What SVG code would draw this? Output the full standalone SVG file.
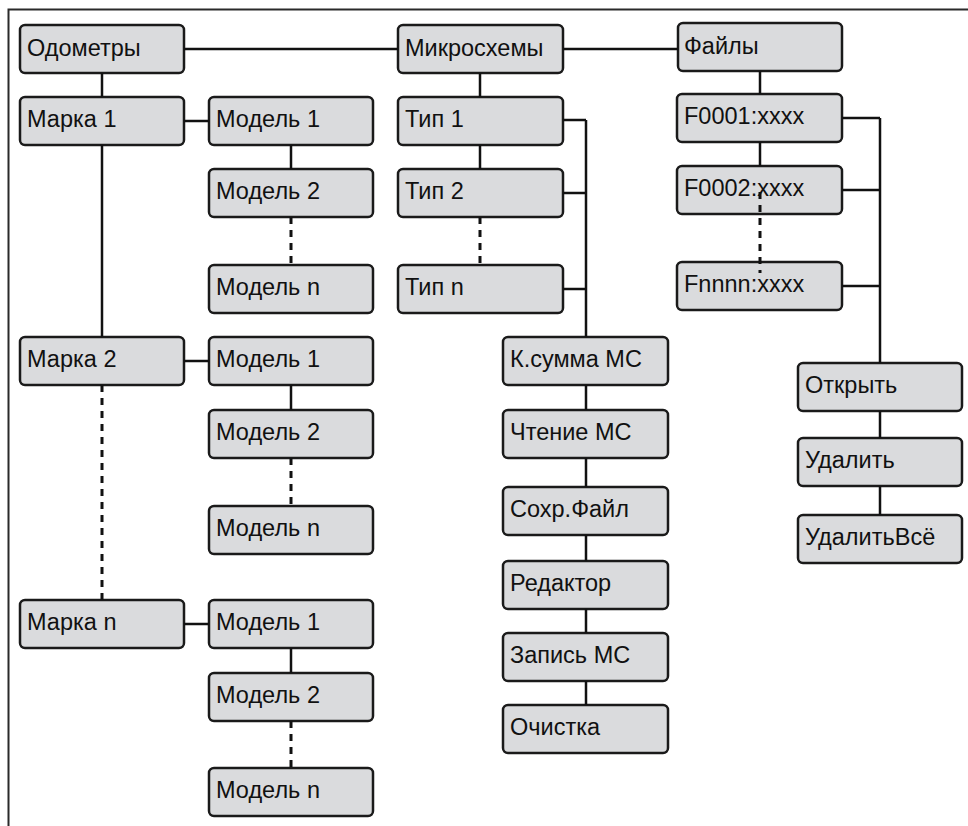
<svg xmlns="http://www.w3.org/2000/svg" width="968" height="826" viewBox="0 0 968 826">
<style>
.n rect{fill:#dadbdd;stroke:#1a1a1a;stroke-width:2.5}
.n text{font-family:"Liberation Sans",Arial,sans-serif;font-size:23.5px;fill:#111}
.c path{fill:none;stroke:#111;stroke-width:2.5}
.c path.d{stroke-dasharray:7 6;stroke-width:3}
</style>
<rect width="968" height="826" fill="#fff"/>
<path d="M8.5 826V9.5H968" fill="none" stroke="#2a2a2a" stroke-width="2"/>
<g id="odo" class="n"><rect x="20" y="25" width="164" height="48" rx="5"/><text x="27" y="56">Одометры</text></g>
<g id="m1" class="n"><rect x="20" y="97" width="164" height="48" rx="5"/><text x="27" y="127">Марка 1</text></g>
<g id="m1md1" class="n"><rect x="209" y="97" width="164" height="48" rx="5"/><text x="216" y="127">Модель 1</text></g>
<g id="m1md2" class="n"><rect x="209" y="169" width="164" height="48" rx="5"/><text x="216" y="199">Модель 2</text></g>
<g id="m1mdn" class="n"><rect x="209" y="265" width="164" height="48" rx="5"/><text x="216" y="295">Модель n</text></g>
<g id="m2" class="n"><rect x="20" y="337" width="164" height="48" rx="5"/><text x="27" y="367">Марка 2</text></g>
<g id="m2md1" class="n"><rect x="209" y="337" width="164" height="48" rx="5"/><text x="216" y="367">Модель 1</text></g>
<g id="m2md2" class="n"><rect x="209" y="410" width="164" height="48" rx="5"/><text x="216" y="440">Модель 2</text></g>
<g id="m2mdn" class="n"><rect x="209" y="506" width="164" height="48" rx="5"/><text x="216" y="536">Модель n</text></g>
<g id="mn" class="n"><rect x="20" y="600" width="164" height="48" rx="5"/><text x="27" y="630">Марка n</text></g>
<g id="mnmd1" class="n"><rect x="209" y="600" width="164" height="48" rx="5"/><text x="216" y="630">Модель 1</text></g>
<g id="mnmd2" class="n"><rect x="209" y="673" width="164" height="48" rx="5"/><text x="216" y="703">Модель 2</text></g>
<g id="mnmdn" class="n"><rect x="209" y="768" width="164" height="48" rx="5"/><text x="216" y="798">Модель n</text></g>
<g id="mc" class="n"><rect x="398" y="25" width="165" height="48" rx="5"/><text x="405" y="56">Микросхемы</text></g>
<g id="t1" class="n"><rect x="398" y="97" width="165" height="48" rx="5"/><text x="405" y="127">Тип 1</text></g>
<g id="t2" class="n"><rect x="398" y="169" width="165" height="48" rx="5"/><text x="405" y="199">Тип 2</text></g>
<g id="tn" class="n"><rect x="398" y="265" width="165" height="48" rx="5"/><text x="405" y="295">Тип n</text></g>
<g id="ks" class="n"><rect x="503" y="337" width="165" height="48" rx="5"/><text x="510" y="367">К.сумма МС</text></g>
<g id="read" class="n"><rect x="503" y="410" width="165" height="48" rx="5"/><text x="510" y="440">Чтение МС</text></g>
<g id="save" class="n"><rect x="503" y="487" width="165" height="48" rx="5"/><text x="510" y="517">Сохр.Файл</text></g>
<g id="edit" class="n"><rect x="503" y="561" width="165" height="48" rx="5"/><text x="510" y="591">Редактор</text></g>
<g id="write" class="n"><rect x="503" y="633" width="165" height="48" rx="5"/><text x="510" y="663">Запись МС</text></g>
<g id="clear" class="n"><rect x="503" y="705" width="165" height="48" rx="5"/><text x="510" y="735">Очистка</text></g>
<g id="files" class="n"><rect x="678" y="23" width="164" height="48" rx="5"/><text x="684" y="54">Файлы</text></g>
<g id="f1" class="n"><rect x="677" y="94" width="165" height="48" rx="5"/><text x="684" y="124">F0001:xxxx</text></g>
<g id="f2" class="n"><rect x="677" y="166" width="165" height="48" rx="5"/><text x="684" y="196">F0002:xxxx</text></g>
<g id="fn" class="n"><rect x="677" y="262" width="165" height="48" rx="5"/><text x="684" y="292">Fnnnn:xxxx</text></g>
<g id="open" class="n"><rect x="798" y="363" width="164" height="48" rx="5"/><text x="805" y="393">Открыть</text></g>
<g id="del" class="n"><rect x="798" y="438" width="164" height="48" rx="5"/><text x="805" y="468">Удалить</text></g>
<g id="delall" class="n"><rect x="798" y="515" width="164" height="48" rx="5"/><text x="805" y="545">УдалитьВсё</text></g>
<g id="connectors" class="c">
<path d="M184 49H398M563 49H678"/>
<path d="M102 73V97M102 145V337"/>
<path d="M184 121H209M291 145V169"/>
<path d="M184 361H209M291 385V410"/>
<path d="M184 624H209M291 648V673"/>
<path d="M480 73V97M480 145V169"/>
<path d="M563 120H586M563 193H586M563 289H586M586 120V337"/>
<path d="M586 385V410M586 458V487M586 535V561M586 609V633M586 681V705"/>
<path d="M760 71V94M760 142V166"/>
<path d="M842 118H880M842 190H880M842 286H880M880 118V363"/>
<path d="M880 411V438M880 486V515"/>
<path class="d" d="M102 385V600"/>
<path class="d" d="M291 217V265M291 458V506M291 721V768"/>
<path class="d" d="M480 217V265"/>
<path class="d" d="M760 192V273"/>
</g>
</svg>
